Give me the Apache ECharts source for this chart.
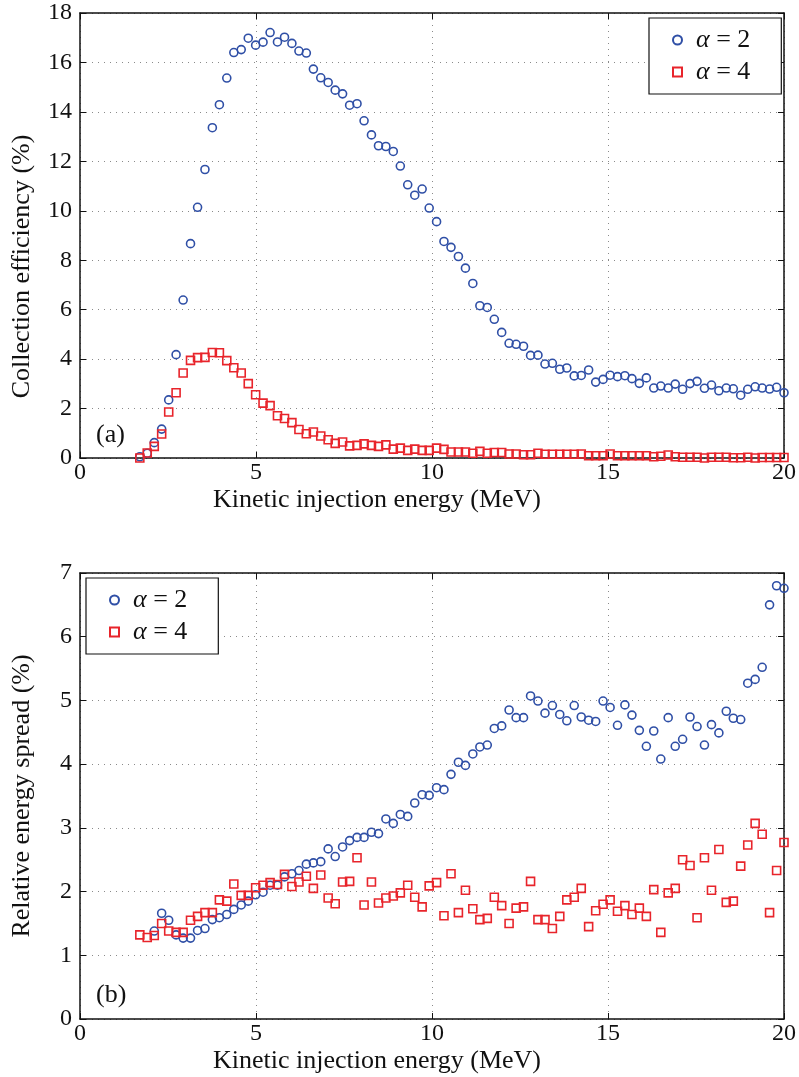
<!DOCTYPE html>
<html>
<head>
<meta charset="utf-8">
<script src="https://cdn.jsdelivr.net/npm/echarts@6/dist/echarts.min.js"></script>
<style>
  html, body { margin: 0; padding: 0; background: #fff; }
  #chart { width: 799px; height: 1077px; }
</style>
</head>
<body>
<div id="chart"></div>
<script>
// Kinetic injection energy grid (MeV)
const energy = [
  1.70, 1.91, 2.11, 2.32, 2.52, 2.73, 2.93, 3.14, 3.34, 3.55,
  3.76, 3.96, 4.17, 4.37, 4.58, 4.78, 4.99, 5.20, 5.40, 5.61,
  5.81, 6.02, 6.22, 6.43, 6.63, 6.84, 7.05, 7.25, 7.46, 7.66,
  7.87, 8.07, 8.28, 8.48, 8.69, 8.90, 9.10, 9.31, 9.51, 9.72,
  9.92, 10.13, 10.34, 10.54, 10.75, 10.95, 11.16, 11.36, 11.57, 11.77,
  11.98, 12.19, 12.39, 12.60, 12.80, 13.01, 13.21, 13.42, 13.63, 13.83,
  14.04, 14.24, 14.45, 14.65, 14.86, 15.06, 15.27, 15.48, 15.68, 15.89,
  16.09, 16.30, 16.50, 16.71, 16.91, 17.12, 17.33, 17.53, 17.74, 17.94,
  18.15, 18.36, 18.56, 18.77, 18.97, 19.18, 19.38, 19.59, 19.79, 20.00
];

// (a) Collection efficiency (%)
const effAlpha2 = [
  0.05, 0.19, 0.62, 1.17, 2.35, 4.18, 6.39, 8.67, 10.14, 11.67,
  13.36, 14.29, 15.37, 16.40, 16.52, 16.98, 16.70, 16.82, 17.21, 16.83,
  17.02, 16.77, 16.46, 16.38, 15.73, 15.38, 15.19, 14.88, 14.73, 14.27,
  14.33, 13.64, 13.07, 12.63, 12.60, 12.40, 11.81, 11.05, 10.63, 10.88,
  10.11, 9.56, 8.76, 8.52, 8.15, 7.68, 7.06, 6.16, 6.09, 5.61,
  5.08, 4.64, 4.60, 4.52, 4.15, 4.16, 3.80, 3.83, 3.59, 3.64,
  3.32, 3.34, 3.56, 3.07, 3.18, 3.35, 3.29, 3.33, 3.21, 3.02,
  3.24, 2.83, 2.91, 2.83, 2.99, 2.78, 3.01, 3.10, 2.82, 2.95,
  2.72, 2.83, 2.80, 2.54, 2.78, 2.88, 2.83, 2.79, 2.86, 2.64
];
const effAlpha4 = [
  0.00, 0.20, 0.47, 0.97, 1.86, 2.64, 3.44, 3.95, 4.06, 4.07,
  4.27, 4.26, 3.94, 3.65, 3.44, 3.01, 2.56, 2.22, 2.12, 1.71,
  1.60, 1.43, 1.15, 0.98, 1.05, 0.89, 0.74, 0.59, 0.65, 0.49,
  0.51, 0.57, 0.51, 0.47, 0.53, 0.36, 0.40, 0.31, 0.36, 0.31,
  0.31, 0.40, 0.35, 0.24, 0.24, 0.24, 0.19, 0.27, 0.19, 0.22,
  0.22, 0.16, 0.16, 0.13, 0.13, 0.19, 0.15, 0.15, 0.15, 0.15,
  0.15, 0.16, 0.09, 0.09, 0.09, 0.16, 0.09, 0.09, 0.09, 0.09,
  0.09, 0.05, 0.07, 0.12, 0.05, 0.03, 0.03, 0.03, 0.00, 0.03,
  0.03, 0.03, 0.01, 0.01, 0.03, 0.00, 0.02, 0.02, 0.02, 0.02
];

// (b) Relative energy spread (%)
const spreadAlpha2 = [
  null, null, 1.38, 1.66, 1.55, 1.32, 1.27, 1.27, 1.39, 1.42,
  1.56, 1.59, 1.64, 1.72, 1.79, 1.85, 1.95, 1.99, 2.10, 2.10,
  2.23, 2.28, 2.33, 2.43, 2.45, 2.47, 2.67, 2.55, 2.70, 2.80,
  2.85, 2.85, 2.93, 2.91, 3.14, 3.07, 3.21, 3.18, 3.39, 3.52,
  3.51, 3.63, 3.60, 3.84, 4.03, 3.98, 4.16, 4.27, 4.30, 4.56,
  4.60, 4.85, 4.73, 4.73, 5.07, 4.99, 4.80, 4.92, 4.78, 4.68,
  4.92, 4.74, 4.69, 4.67, 4.99, 4.89, 4.61, 4.93, 4.77, 4.53,
  4.28, 4.52, 4.08, 4.73, 4.28, 4.39, 4.74, 4.59, 4.30, 4.62,
  4.49, 4.83, 4.72, 4.70, 5.27, 5.33, 5.52, 6.50, 6.80, 6.76
];
const spreadAlpha4 = [
  1.32, 1.28, 1.31, 1.50, 1.38, 1.36, 1.36, 1.55, 1.61, 1.67,
  1.67, 1.87, 1.85, 2.12, 1.94, 1.94, 2.06, 2.10, 2.14, 2.11,
  2.27, 2.08, 2.15, 2.24, 2.05, 2.26, 1.90, 1.81, 2.15, 2.16,
  2.53, 1.79, 2.15, 1.82, 1.90, 1.93, 1.98, 2.10, 1.91, 1.76,
  2.09, 2.14, 1.62, 2.28, 1.67, 2.02, 1.73, 1.56, 1.58, 1.91,
  1.78, 1.50, 1.74, 1.76, 2.16, 1.56, 1.56, 1.42, 1.61, 1.87,
  1.91, 2.05, 1.45, 1.70, 1.80, 1.87, 1.69, 1.78, 1.64, 1.74,
  1.61, 2.03, 1.36, 1.98, 2.05, 2.50, 2.41, 1.59, 2.53, 2.02,
  2.66, 1.83, 1.85, 2.40, 2.73, 3.07, 2.90, 1.67, 2.33, 2.77
];

const xTicks = [0, 5, 10, 15, 20];
const seriesNames = ['α = 2', 'α = 4'];

const BLUE = '#2f4fa6';
const RED = '#e8242b';
const SERIF = '"Liberation Serif", "DejaVu Serif", serif';

function pairs(values) {
  const out = [];
  values.forEach((v, i) => { if (v !== null) out.push([energy[i], v]); });
  return out;
}

const gridLine = { show: true, lineStyle: { color: '#8a8a8a', width: 1, type: [1, 5] } };
const frameLine = { show: true, onZero: false, lineStyle: { color: '#111', width: 1.5 } };
const tickIn = { show: true, inside: true, length: 6, lineStyle: { color: '#111', width: 1 } };

function xAxes(gridIndex, nameShift) {
  return [
    {
      type: 'value', gridIndex, position: 'bottom', min: 0, max: 20, interval: 5,
      axisLine: frameLine, axisTick: tickIn, splitLine: gridLine,
      axisLabel: { fontFamily: SERIF, fontSize: 24, color: '#111', margin: 3,
        customValues: xTicks },
      name: 'Kinetic injection energy (MeV)', nameLocation: 'middle', nameGap: 29,
      nameTextStyle: { fontFamily: SERIF, fontSize: 26, color: '#111', padding: [0, nameShift, 0, 0] }
    },
    {
      type: 'value', gridIndex, position: 'top', min: 0, max: 20, interval: 5,
      axisLine: frameLine, axisTick: tickIn, splitLine: { show: false },
      axisLabel: { show: false }
    }
  ];
}

function yAxes(gridIndex, max, interval, name, namePad) {
  return [
    {
      type: 'value', gridIndex, position: 'left', min: 0, max, interval,
      axisLine: frameLine, axisTick: tickIn, splitLine: gridLine,
      axisLabel: { fontFamily: SERIF, fontSize: 24, color: '#111', margin: 8 },
      name, nameLocation: 'middle', nameGap: 45,
      nameTextStyle: { fontFamily: SERIF, fontSize: 26, color: '#111', padding: namePad }
    },
    {
      type: 'value', gridIndex, position: 'right', min: 0, max, interval,
      axisLine: frameLine, axisTick: tickIn, splitLine: { show: false },
      axisLabel: { show: false }
    }
  ];
}

function scatter(name, values, xi, yi, blue) {
  return {
    type: 'scatter', name, xAxisIndex: xi, yAxisIndex: yi,
    data: pairs(values),
    symbol: blue ? 'circle' : 'rect',
    symbolSize: 8,
    itemStyle: { color: 'rgba(255,255,255,0)', borderColor: blue ? BLUE : RED, borderWidth: 1.6, opacity: 1 },
    emphasis: { disabled: true },
    z: blue ? 2 : 3
  };
}

function legendAt(left, top) {
  return {
    orient: 'vertical', left, top, data: seriesNames,
    backgroundColor: '#fff', borderColor: '#111', borderWidth: 1.2, borderRadius: 0,
    padding: [9, 31, 9, 23], itemGap: 6, itemWidth: 9, itemHeight: 9,
    selectedMode: false,
    formatter: (n) => n.replace('α', '{i|α}'),
    textStyle: {
      fontFamily: SERIF, fontSize: 26, color: '#111', lineHeight: 26, padding: [0, 0, 0, 9],
      rich: { i: { fontFamily: SERIF, fontSize: 26, fontStyle: 'italic', color: '#111' } }
    }
  };
}

const chart = echarts.init(document.getElementById('chart'), null, { renderer: 'canvas' });
chart.setOption({
  backgroundColor: '#fff',
  animation: false,
  grid: [
    { left: 80, top: 13, width: 707, height: 445 },
    { left: 80, top: 573, width: 707, height: 446 }
  ],
  xAxis: [...xAxes(0, 110), ...xAxes(1, 110)],
  yAxis: [
    ...yAxes(0, 18, 2, 'Collection efficiency (%)', [0, 62, 0, 0]),
    ...yAxes(1, 7, 1, 'Relative energy spread (%)', [0, 0, 0, 0])
  ],
  legend: [legendAt(649, 18), legendAt(86, 578)],
  series: [
    scatter(seriesNames[0], effAlpha2, 0, 0, true),
    scatter(seriesNames[1], effAlpha4, 0, 0, false),
    scatter(seriesNames[0], spreadAlpha2, 2, 2, true),
    scatter(seriesNames[1], spreadAlpha4, 2, 2, false)
  ],
  graphic: [
    { type: 'text', left: 96, top: 422, style: { text: '(a)', font: '26px ' + SERIF, fill: '#111' } },
    { type: 'text', left: 96, top: 982, style: { text: '(b)', font: '26px ' + SERIF, fill: '#111' } }
  ]
});
</script>
</body>
</html>
